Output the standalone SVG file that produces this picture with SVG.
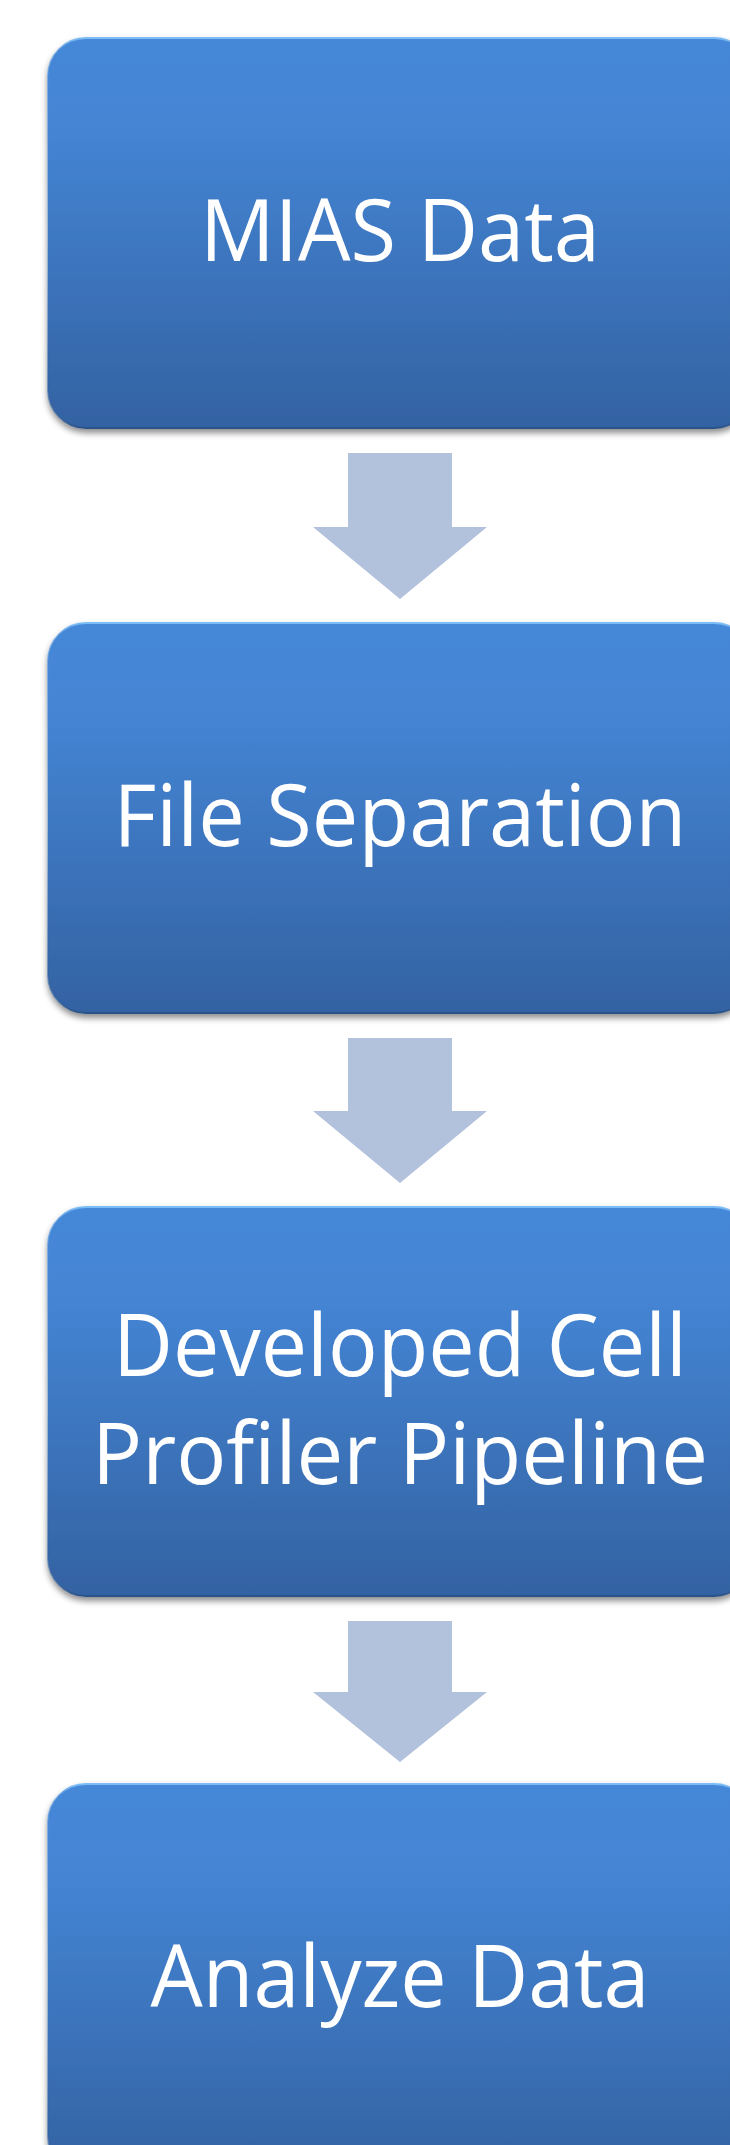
<svg xmlns="http://www.w3.org/2000/svg" width="730" height="2145" viewBox="0 0 730 2145">
<defs>
<linearGradient id="fill" x1="0" y1="0" x2="0" y2="1">
<stop offset="0" stop-color="#4588D8"/>
<stop offset="0.25" stop-color="#4484D3"/>
<stop offset="1" stop-color="#3362A2"/>
</linearGradient>
<linearGradient id="edge" x1="0" y1="0" x2="0" y2="1">
<stop offset="0" stop-color="#7DBEF7"/>
<stop offset="0.03" stop-color="#4A8DDB" stop-opacity="0.6"/>
<stop offset="0.5" stop-color="#3F7CC8" stop-opacity="0.3"/>
<stop offset="0.97" stop-color="#2F5C98" stop-opacity="0.6"/>
<stop offset="1" stop-color="#2B5288"/>
</linearGradient>
<filter id="shadow" x="-5%" y="-5%" width="110%" height="115%">
<feDropShadow dx="0" dy="4" stdDeviation="3" flood-color="#000" flood-opacity="0.45"/>
</filter>
</defs>
<style>
.box{fill:url(#fill);stroke:url(#edge);stroke-width:2;filter:url(#shadow)}
.lbl{font-family:"Open Sans","Liberation Sans",Arial,sans-serif;font-size:86px;fill:#FFFFFF;text-anchor:middle}
.arrow{fill:#B3C2DC}
</style>
<rect width="730" height="2145" fill="#FFFFFF"/>
<g id="connectors">
<polygon class="arrow" points="348,453 452,453 452,527 487,527 400,599 313,527 348,527"/>
<polygon class="arrow" points="348,1038 452,1038 452,1111 487,1111 400,1183 313,1111 348,1111"/>
<polygon class="arrow" points="348,1621 452,1621 452,1692 487,1692 400,1762 313,1692 348,1692"/>
</g>
<g id="node-mias">
<rect class="box" x="48" y="38" width="704" height="390" rx="38" ry="38"/>
<text class="lbl" x="400" y="261" textLength="400" lengthAdjust="spacingAndGlyphs">MIAS Data</text>
</g>
<g id="node-file">
<rect class="box" x="48" y="623" width="704" height="390" rx="38" ry="38"/>
<text class="lbl" x="400" y="846" textLength="573" lengthAdjust="spacingAndGlyphs">File Separation</text>
</g>
<g id="node-pipeline">
<rect class="box" x="48" y="1207" width="704" height="389" rx="38" ry="38"/>
<text class="lbl" x="400" y="1376" textLength="574" lengthAdjust="spacingAndGlyphs">Developed Cell</text>
<text class="lbl" x="400" y="1484" textLength="616" lengthAdjust="spacingAndGlyphs">Profiler Pipeline</text>
</g>
<g id="node-analyze">
<rect class="box" x="48" y="1784" width="704" height="390" rx="38" ry="38"/>
<text class="lbl" x="400" y="2007" textLength="499" lengthAdjust="spacingAndGlyphs">Analyze Data</text>
</g>
</svg>
